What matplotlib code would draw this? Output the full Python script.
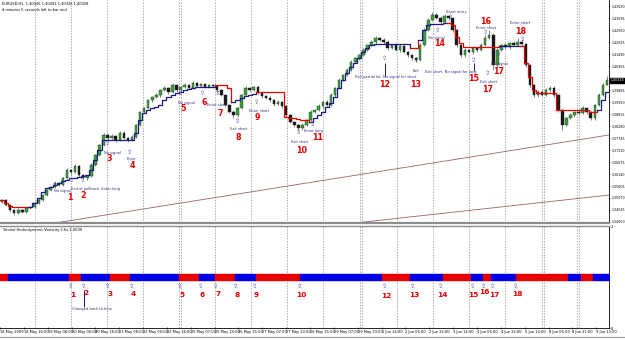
import matplotlib
matplotlib.use("Agg")
import matplotlib.pyplot as plt
import matplotlib.transforms as mtrans
import numpy as np

plt.rcParams['font.family'] = ['DejaVu Sans']

# ---- price data (EURUSD H1) ----
first_open = 1.3490
closes = [1.3498, 1.3476, 1.3453, 1.3440, 1.3453, 1.3445, 1.3462, 1.3467, 1.3485, 1.3498,
          1.3520, 1.3543, 1.3556, 1.3574, 1.3565, 1.3596, 1.3632, 1.3623, 1.3650, 1.3610,
          1.3596, 1.3605, 1.3654, 1.3699, 1.3743, 1.3788, 1.3775, 1.3783, 1.3766, 1.3797,
          1.3775, 1.3766, 1.3779, 1.3833, 1.3891, 1.3908, 1.3944, 1.3957, 1.3966, 1.3989,
          1.3998, 1.3980, 1.4011, 1.3989, 1.4002, 1.4011, 1.3998, 1.4020, 1.4006, 1.4015,
          1.4002, 1.4011, 1.4006, 1.3989, 1.3966, 1.3922, 1.3891, 1.3877, 1.3908, 1.3966,
          1.3998, 1.3989, 1.4002, 1.3975, 1.3962, 1.3953, 1.3944, 1.3926, 1.3935, 1.3917,
          1.3877, 1.3846, 1.3833, 1.3819, 1.3833, 1.3855, 1.3891, 1.3899, 1.3917, 1.3935,
          1.3922, 1.3966, 1.3998, 1.4033, 1.4056, 1.4078, 1.4114, 1.4131, 1.4145, 1.4167,
          1.4189, 1.4203, 1.4221, 1.4212, 1.4203, 1.4176, 1.4189, 1.4167, 1.4185, 1.4158,
          1.4145, 1.4131, 1.4122, 1.4189, 1.4256, 1.4301, 1.4323, 1.4310, 1.4292, 1.4319,
          1.4310, 1.4256, 1.4189, 1.4145, 1.4167, 1.4158, 1.4176, 1.4167, 1.4189, 1.4221,
          1.4234, 1.4100, 1.4167, 1.4189, 1.4180, 1.4198, 1.4189, 1.4203, 1.4194, 1.4100,
          1.4011, 1.3966, 1.3980, 1.3966, 1.3989, 1.3998, 1.3966, 1.3899, 1.3833, 1.3864,
          1.3877, 1.3891, 1.3886, 1.3908, 1.3891, 1.3864, 1.3922, 1.3966, 1.4011, 1.4033]
# wick lengths in pips
upper_wick = [6, 4, 5, 3, 8, 4, 6, 5, 4, 7,
              5, 6, 4, 8, 5, 6, 9, 5, 7, 4,
              6, 5, 8, 6, 7, 10, 6, 8, 5, 9,
              7, 6, 8, 5, 6, 7, 4, 6, 8, 5,
              7, 6, 9, 5, 6, 7, 5, 8, 6, 5,
              7, 6, 5, 4, 6, 5, 4, 8, 6, 7,
              9, 5, 6, 7, 4, 6, 8, 5, 7, 6,
              4, 5, 6, 5, 7, 6, 8, 5, 9, 6,
              7, 8, 6, 7, 6, 8, 7, 5, 6, 8,
              7, 9, 10, 6, 7, 8, 6, 9, 7, 6,
              5, 4, 6, 8, 10, 9, 14, 8, 7, 9,
              6, 5, 6, 8, 7, 6, 8, 5, 9, 12,
              22, 10, 8, 7, 9, 6, 8, 18, 7, 5,
              4, 6, 7, 8, 9, 7, 8, 6, 5, 4,
              7, 6, 8, 9, 7, 6, 5, 8, 9, 16]
lower_wick = [5, 6, 7, 9, 5, 6, 4, 5, 6, 4,
              6, 5, 7, 4, 6, 5, 4, 8, 5, 9,
              6, 7, 5, 4, 6, 5, 8, 6, 9, 5,
              7, 8, 6, 5, 4, 6, 5, 7, 6, 8,
              5, 7, 6, 8, 5, 6, 7, 5, 6, 4,
              6, 5, 7, 8, 6, 9, 7, 13, 8, 6,
              5, 7, 6, 5, 8, 6, 7, 9, 6, 8,
              7, 6, 8, 9, 7, 6, 5, 7, 6, 8,
              6, 5, 7, 6, 5, 4, 6, 5, 7, 6,
              5, 6, 7, 6, 8, 7, 6, 5, 8, 6,
              7, 9, 8, 5, 6, 4, 5, 6, 8, 5,
              7, 9, 8, 10, 7, 6, 8, 7, 6, 5,
              6, 22, 7, 6, 8, 7, 6, 5, 7, 9,
              8, 10, 7, 6, 5, 8, 7, 9, 23, 7,
              6, 8, 7, 6, 8, 9, 7, 5, 6, 2]

# trailing step line: bar index where level changes, level
trail_idx = [0, 1, 2, 3, 8, 9, 10, 11, 12, 13, 14, 15, 16, 17, 19, 20, 21, 22, 23, 24,
             25, 33, 34, 35, 36, 37, 38, 39, 40, 41, 42, 43, 44, 45, 46, 47, 48, 53, 56, 57,
             58, 59, 60, 61, 62, 63, 70, 71, 73, 74, 76, 77, 78, 79, 80, 81, 82, 83, 84, 85,
             86, 87, 88, 89, 90, 91, 92, 101, 103, 104, 105, 106, 109, 111, 112, 113, 114, 123, 129, 130,
             131, 132, 137, 145, 147, 148, 149]
trail_val = [1.3498, 1.3485, 1.3471, 1.3467, 1.3485, 1.3507, 1.3534, 1.3552, 1.3556, 1.3565,
             1.3574, 1.3583, 1.3587, 1.3596, 1.3601, 1.3605, 1.3610, 1.3632, 1.3677, 1.3721,
             1.3766, 1.3797, 1.3855, 1.3886, 1.3899, 1.3908, 1.3913, 1.3922, 1.3944, 1.3957,
             1.3966, 1.3975, 1.3980, 1.3989, 1.3993, 1.3998, 1.4002, 1.4011, 1.3998, 1.3935,
             1.3944, 1.3953, 1.3962, 1.3966, 1.3971, 1.3980, 1.3868, 1.3864, 1.3859, 1.3855,
             1.3846, 1.3864, 1.3877, 1.3891, 1.3913, 1.3931, 1.3957, 1.3998, 1.4033, 1.4064,
             1.4091, 1.4109, 1.4131, 1.4158, 1.4176, 1.4189, 1.4194, 1.4176, 1.4212, 1.4256,
             1.4279, 1.4283, 1.4287, 1.4279, 1.4225, 1.4198, 1.4180, 1.4185, 1.4109, 1.4047,
             1.3989, 1.3975, 1.3899, 1.3891, 1.3899, 1.3944, 1.3980]
trail_runs = [0, 7, 53, 57, 63, 76, 101, 103, 110, 123, 128, 147, 150]   # red, blue, red, ...

# two hand-drawn trend lines (bar, price)
trend_a = [(21.4, 1.3418), (150.0, 1.3788)]
trend_b = [(87.4, 1.33955), (150.0, 1.3520)]

# annotations on price pane
arrow_x = [17.7, 20.4, 26.6, 32.0, 44.6, 50.0, 53.7, 58.4, 63.3, 73.6, 77.1, 94.8, 102.7,
           107.9, 111.1, 116.7, 119.7, 122.9, 120.2, 128.8]
arrow_y = [1.3583, 1.3587, 1.3752, 1.3708, 1.3975, 1.3975, 1.3975, 1.3846, 1.3931, 1.3801,
           1.3833, 1.4131, 1.4118, 1.4256, 1.4314, 1.4122, 1.4247, 1.4145, 1.4060, 1.4214]
note_txt = ["No signal", "End of pullback. Enter long", "No signal", "Enter", "No signal",
            "Enter short", "Exit short", "Enter short", "Exit short", "Enter long",
            "Exit partial lot. No signal for short", "Exit", "No signal", "Short entry",
            "Exit short. No signal for long", "Enter short", "No signal", "Exit short", "Enter short"]
note_x = [15.5, 23.6, 27.6, 32.3, 45.8, 53.4, 58.9, 63.8, 73.9, 77.3, 95.1, 102.5, 107.6, 112.3,
          111.1, 119.7, 122.9, 120.4, 128.1]
note_y = [1.3538, 1.3547, 1.3708, 1.3681, 1.3931, 1.3922, 1.3815, 1.3895, 1.3757, 1.3806,
          1.4047, 1.4073, 1.4220, 1.4336, 1.4069, 1.4265, 1.4105, 1.4024, 1.4286]
num_txt = ["1", "2", "3", "4", "5", "6", "7", "8", "9", "10", "11", "12", "13", "14", "15",
           "16", "17", "17", "18"]
num_x = [17.2, 20.4, 26.8, 32.5, 45.1, 50.2, 54.2, 58.6, 63.3, 74.4, 78.3, 94.8, 102.5, 108.4,
         116.7, 119.5, 122.7, 120.2, 128.3]
num_y = [1.3511, 1.3520, 1.3681, 1.3654, 1.3908, 1.3931, 1.3886, 1.3779, 1.3864, 1.3721,
         1.3775, 1.4015, 1.4011, 1.4198, 1.4042, 1.4292, 1.4073, 1.3993, 1.4251]
stem_x = [94.8, 116.7]
stem_lo = [1.4051, 1.4073]
stem_hi = [1.4109, 1.4109]

# indicator pane: colour flips of the strip (bar edges), red first
strip_edges = [0, 2, 17, 20, 27, 32, 44, 49, 53, 58, 63, 74, 94, 101, 109, 116, 119, 121,
               127, 140, 143, 146, 150]
mark_x = [17.5, 20.7, 26.6, 32.3, 44.3, 49.3, 53.2, 58.1, 62.8, 73.9, 94.8, 101.7, 108.6,
          116.3, 119.0, 121.4, 127.1]
mark_txt = ["1", "2", "3", "4", "5", "6", "7", "8", "9", "10", "12", "13", "14", "15", "16",
            "17", "18"]
mark_num_y = [0.64, 0.68, 0.66, 0.66, 0.64, 0.64, 0.66, 0.64, 0.64, 0.64, 0.62, 0.64, 0.64,
              0.64, 0.70, 0.64, 0.66]

price_ticks = [1.34000, 1.34535, 1.35070, 1.35605, 1.36140, 1.36675, 1.37210, 1.37745,
               1.38280, 1.38815, 1.39350, 1.39885, 1.40420, 1.40955, 1.41490, 1.42025,
               1.42560, 1.43095, 1.43630]
last_price = 1.40328
time_labels = ["18 May 2009", "18 May 16:00", "19 May 08:00", "20 May 00:00", "20 May 16:00",
               "21 May 08:00", "22 May 00:00", "22 May 16:00", "25 May 07:00", "25 May 23:00",
               "26 May 15:00", "27 May 07:00", "27 May 23:00", "28 May 15:00", "29 May 07:00",
               "29 May 23:00", "1 Jun 14:00", "2 Jun 06:00", "2 Jun 22:00", "3 Jun 14:00",
               "4 Jun 06:00", "4 Jun 22:00", "5 Jun 14:00", "8 Jun 05:00", "8 Jun 21:00",
               "9 Jun 13:00"]
grid_x = [8.6, 17.5, 26.4, 35.2, 44.1, 53.0, 61.8, 70.7, 79.6, 88.7, 97.8, 106.7, 115.5,
          124.4, 133.5, 142.1]
double_grid = [44.1, 88.7, 133.5, 142.1]

RED = '#e60000'
BLUE = '#0000e6'
NAVY = '#1a1a80'
TXT = '#30307a'

W, H = 625.0, 340.0
fig = plt.figure(figsize=(W / 100, H / 100), dpi=100)
ax = fig.add_axes([0, (H - 223) / H, 609 / W, 223 / H])
ax2 = fig.add_axes([0, (H - 328) / H, 609 / W, 102 / H])
nbar = len(closes)

for a in (ax, ax2):
    a.set_xlim(0, nbar)
    a.spines['left'].set_visible(False)
    a.spines['top'].set_visible(False)
    a.spines['right'].set_linewidth(0.6)
    for gx in grid_x:
        a.axvline(gx, color='#8a8a8a', lw=0.5, ls=(0, (2, 2)), zorder=0)
    for gx in double_grid:
        a.axvline(gx + 0.4, color='#8a8a8a', lw=0.5, ls=(0, (2, 2)), zorder=0)

# ---- price pane ----
cl = np.array(closes)
op = np.concatenate([[first_open], cl[:-1]])
hi = np.maximum(op, cl) + np.array(upper_wick) * 1e-4
lo = np.minimum(op, cl) - np.array(lower_wick) * 1e-4
xs = np.arange(nbar) + 0.5
up = cl >= op
ax.vlines(xs, lo, hi, color='#555555', lw=0.5, zorder=2)
ax.bar(xs[up], (cl - op)[up], bottom=op[up], width=0.62, color='#3f9f3f',
       edgecolor='#1a3a1a', lw=0.3, zorder=3)
ax.bar(xs[~up], (cl - op)[~up], bottom=op[~up], width=0.62, color='#1a1a1a',
       edgecolor='#1a1a1a', lw=0.3, zorder=3)

bars = np.arange(nbar + 1)
lvl = np.array(trail_val)[np.searchsorted(trail_idx, bars, side='right') - 1]
for k in range(len(trail_runs) - 1):
    s, e = trail_runs[k], trail_runs[k + 1]
    ax.step(bars[s:e + 1], lvl[s:e + 1], where='post',
            color=RED if k % 2 == 0 else NAVY, lw=0.9, zorder=4)

for p0, p1 in (trend_a, trend_b):
    ax.axline(p0, p1, color='#a06060', lw=0.6, zorder=1)

for x, y in zip(arrow_x, arrow_y):
    ax.text(x, y, '\u21e7', fontsize=4.5, color='#4a4ab0', ha='center', va='center', zorder=6)
for x, y, t in zip(note_x, note_y, note_txt):
    ax.text(x, y, t, fontsize=2.6, color=TXT, ha='center', va='center', zorder=6)
for x, y, t in zip(num_x, num_y, num_txt):
    ax.text(x, y, t, fontsize=5.8, color=RED, fontweight='bold', ha='center', va='center', zorder=6)
ax.vlines(stem_x, stem_lo, stem_hi, color=NAVY, lw=0.7, zorder=5)

ax.set_ylim(1.33955, 1.4390)
ax.yaxis.tick_right()
ax.set_yticks(price_ticks)
# the tick hidden under the live price box is left blank
ax.set_yticklabels(['' if abs(v - last_price) < 0.002 else '%.5f' % v for v in price_ticks])
ax.tick_params(axis='y', labelsize=2.3, length=1, width=0.4, pad=0.6)
ax.set_xticks([])
ax.spines['bottom'].set_color('#8c8c8c')
ax.spines['bottom'].set_linewidth(1.6)
trans = mtrans.blended_transform_factory(ax.transAxes, ax.transData)
ax.text(1.0025, last_price, '%.5f' % last_price, transform=trans, fontsize=2.3, color='white',
        va='center', ha='left', bbox=dict(boxstyle='square,pad=0.15', fc='black', ec='black'))

ax.text(0.003, 0.99, 'EURUSD,H1  1.40345 1.40491 1.40326 1.40328', transform=ax.transAxes,
        fontsize=2.6, color='black', va='top', ha='left')
ax.text(0.003, 0.965, '4 minutes 5 seconds left to bar end', transform=ax.transAxes,
        fontsize=2.6, color='black', va='top', ha='left')

# ---- indicator pane ----
for k in range(len(strip_edges) - 1):
    s, e = strip_edges[k], strip_edges[k + 1]
    ax2.broken_barh([(s, e - s)], (0.95, 0.1), color=RED if k % 2 == 0 else BLUE, zorder=3)
for x, t, ny in zip(mark_x, mark_txt, mark_num_y):
    ax2.text(x, 0.82, '\u21e7', fontsize=4.5, color='#4a4ab0', ha='center', va='center', zorder=6)
    ax2.text(x + 0.4, ny, t, fontsize=5.3, color=RED, fontweight='bold', ha='center',
             va='center', zorder=6)
ax2.vlines(mark_x[1], 0.41, 0.74, color=NAVY, lw=0.7)
ax2.text(mark_x[1] + 2.0, 0.37, 'Changed back to blue', fontsize=2.6, color=TXT,
         ha='center', va='center')
ax2.text(0.003, 0.985, 'Tutorial Hodrodynamic Vorticity 2.6x 1.0000', transform=ax2.transAxes,
         fontsize=2.6, color='black', va='top', ha='left')

ax2.set_ylim(0, 2)
ax2.yaxis.tick_right()
ax2.set_yticks([0, 2])
ax2.set_yticklabels(['0', '2'])
ax2.tick_params(axis='y', labelsize=2.5, length=1, width=0.4, pad=0.6)
ax2.spines['top'].set_color('#8c8c8c')
ax2.spines['top'].set_visible(True)
ax2.spines['top'].set_linewidth(1.0)
ax2.spines['bottom'].set_linewidth(0.6)

tick_pos = np.arange(len(time_labels)) * 5.874
ax2.set_xticks(tick_pos)
ax2.set_xticklabels(time_labels, ha='left')
ax2.tick_params(axis='x', labelsize=2.6, length=2, width=0.4, pad=0.5, direction='inout')

fig.add_artist(plt.Line2D([0, 1], [3 / H, 3 / H], color='#a0a0a0', lw=0.8))

fig.savefig('out.png', dpi=100, facecolor='white')
